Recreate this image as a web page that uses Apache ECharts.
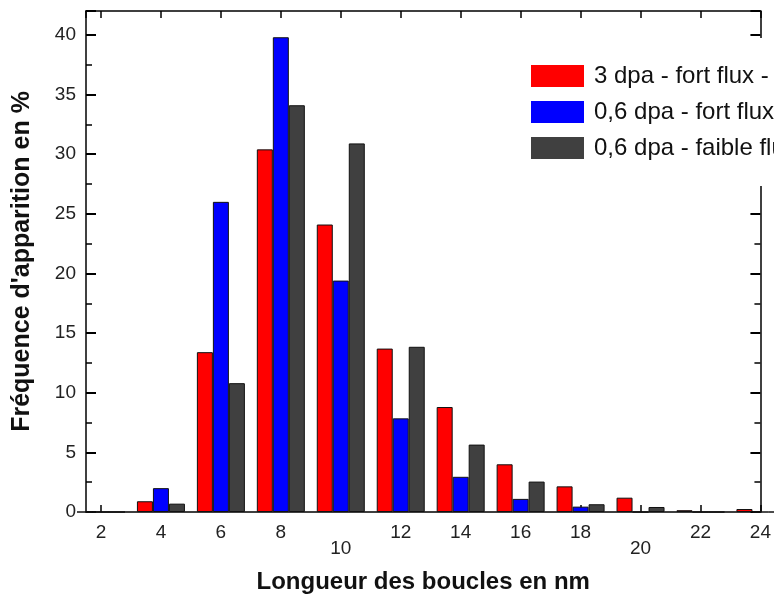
<!DOCTYPE html>
<html>
<head>
<meta charset="utf-8">
<script src="https://cdn.jsdelivr.net/npm/echarts@6/dist/echarts.min.js"></script>
<style>
  html, body { margin: 0; padding: 0; background: #fff; }
  #chart { width: 774px; height: 603px; }
</style>
</head>
<body>
<div id="chart"></div>
<script>
// loop length classes (nm) and frequencies (%)
const lengths = [2, 4, 6, 8, 10, 12, 14, 16, 18, 20, 22, 24];
const seriesNames = ["3 dpa - fort flux - ", "0,6 dpa - fort flux", "0,6 dpa - faible flux"];
const fort3 = [0, 0.9, 13.4, 30.4, 24.1, 13.7, 8.8, 4.0, 2.15, 1.2, 0.15, 0.25];
const fort06 = [0, 2.0, 26.0, 39.8, 19.4, 7.85, 2.95, 1.1, 0.45, 0, 0, 0];
const faible06 = [0, 0.7, 10.8, 34.1, 30.9, 13.85, 5.65, 2.55, 0.65, 0.42, 0, 0];
const colors = ["#ff0000", "#0000ff", "#404040"];

const chart = echarts.init(document.getElementById("chart"));

function pairs(vals) {
  return lengths.map((x, i) => [x, vals[i]]);
}

const font = "'Liberation Sans', Arial, sans-serif";

const xCommon = {
  type: "value",
  min: 1.5,
  max: 24,
  splitNumber: 11,
  splitLine: { show: false },
  axisLine: { onZero: false, lineStyle: { color: "#000", width: 1.5 } },
  axisTick: { inside: true, length: 7, lineStyle: { color: "#000", width: 1.5 } },
};

const yCommon = {
  type: "value",
  min: 0,
  max: 42,
  interval: 5,
  splitLine: { show: false },
  axisLine: { show: true, lineStyle: { color: "#000", width: 1.5 } },
  axisTick: { show: true, inside: true, length: 10, lineStyle: { color: "#000", width: 2 } },
  minorTick: { show: true, splitNumber: 2, length: 6, lineStyle: { color: "#000", width: 1.5 } },
};

const option = {
  animation: false,
  textStyle: { fontFamily: font },
  grid: { left: 86, right: 12, top: 11, bottom: 91 },
  legend: {
    orient: "vertical",
    left: 521,
    top: 38,
    padding: [26, 30, 26, 10],
    backgroundColor: "#fff",
    itemWidth: 53,
    itemHeight: 22,
    itemGap: 12,
    icon: "rect",
    itemStyle: { borderWidth: 0 },
    textStyle: { fontSize: 24, color: "#111", fontFamily: font, padding: [0, 0, 0, 5] },
    data: seriesNames,
  },
  xAxis: [
    Object.assign({}, xCommon, {
      position: "bottom",
      name: "Longueur des boucles en nm",
      nameLocation: "middle",
      nameGap: 58,
      nameTextStyle: { fontSize: 24, fontWeight: "bold", color: "#111" },
      axisLabel: {
        margin: 13,
        fontSize: 19,
        color: "#222",
        lineHeight: 16,
        showMinLabel: false,
        formatter: (v) => (v === 10 || v === 20 ? "\n" + v : String(v)),
      },
    }),
    Object.assign({}, xCommon, {
      position: "top",
      axisLabel: { show: false },
    }),
  ],
  yAxis: [
    Object.assign({}, yCommon, {
      position: "left",
      name: "Fréquence d'apparition en %",
      nameLocation: "middle",
      nameGap: 51,
      nameTextStyle: { fontSize: 25, fontWeight: "bold", color: "#111" },
      axisLabel: {
        margin: 10,
        fontSize: 19,
        color: "#222",
        showMaxLabel: false,
      },
    }),
    Object.assign({}, yCommon, {
      position: "right",
      axisLabel: { show: false },
    }),
  ],
  series: [fort3, fort06, faible06].map((vals, i) => ({
    name: seriesNames[i],
    type: "bar",
    xAxisIndex: 0,
    yAxisIndex: 0,
    barWidth: 16,
    barGap: "0%",
    data: pairs(vals),
    itemStyle: { color: colors[i], borderColor: "#111", borderWidth: 1 },
  })),
};

chart.setOption(option);
</script>
</body>
</html>
